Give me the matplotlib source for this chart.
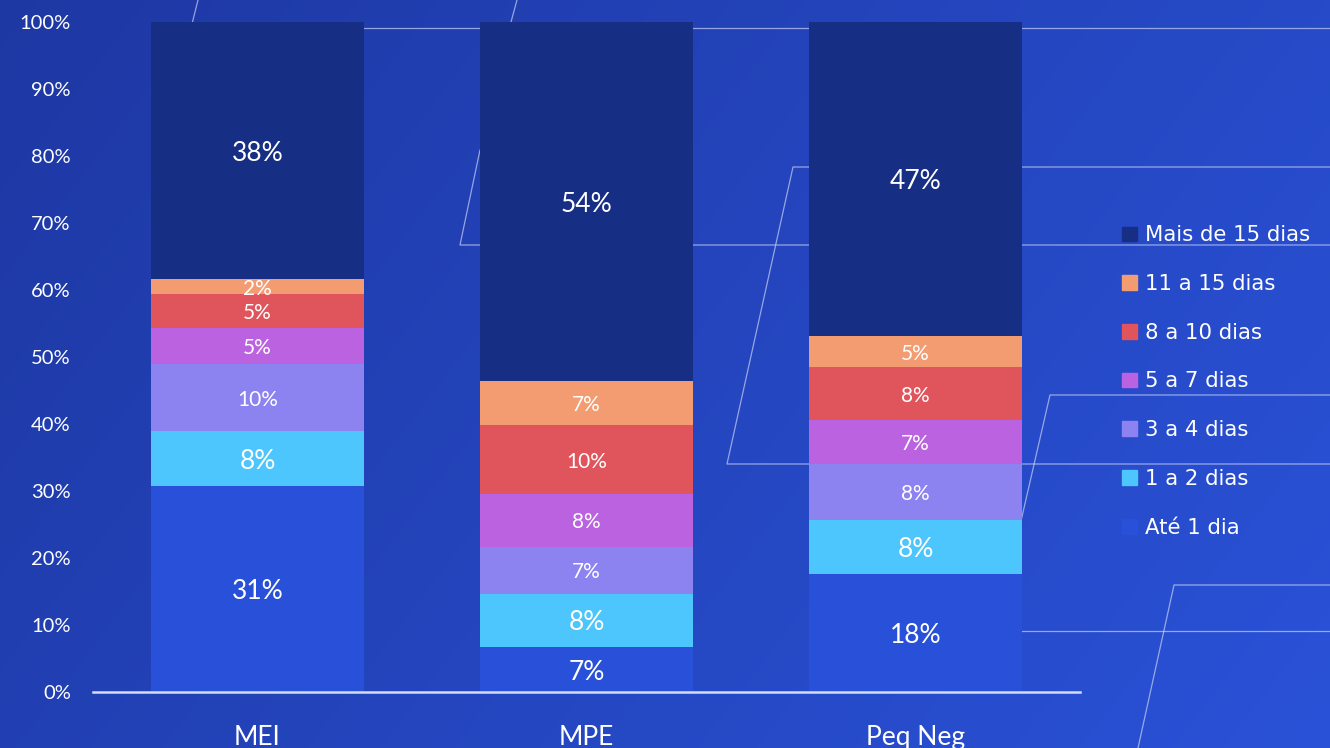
import numpy as np
import matplotlib.pyplot as plt
from matplotlib.patches import Patch

categorias = ['MEI', 'MPE', 'Peq Neg']
series = ['Até 1 dia', '1 a 2 dias', '3 a 4 dias', '5 a 7 dias',
          '8 a 10 dias', '11 a 15 dias', 'Mais de 15 dias']

ate_1 = [30.8, 6.7, 17.6]
d1_2 = [8.1, 8.0, 8.0]
d3_4 = [10.0, 7.0, 8.4]
d5_7 = [5.4, 7.8, 6.6]
d8_10 = [5.1, 10.3, 7.9]
d11_15 = [2.2, 6.6, 4.6]
mais_15 = [38.4, 53.6, 46.9]

valores = [ate_1, d1_2, d3_4, d5_7, d8_10, d11_15, mais_15]
cores = ['#2850D8', '#4CC6FD', '#8C83F0', '#BB62E0', '#E0545C', '#F39C72', '#172E85']
tam_rotulo = [19, 19, 15, 15, 15, 15, 19]

W, H = 1330, 748
fig = plt.figure(figsize=(W / 100, H / 100), dpi=100)

# fundo em degradê + linhas decorativas (coordenadas em pixels)
bg = fig.add_axes([0, 0, 1, 1], zorder=-1)
yy, xx = np.mgrid[0:H, 0:W]
t = (xx / W * 0.7 + yy / H * 0.3)
c0 = np.array([0x1E, 0x38, 0xA3]) / 255
c1 = np.array([0x2A, 0x52, 0xD8]) / 255
img = c0[None, None, :] * (1 - t[..., None]) + c1[None, None, :] * t[..., None]
bg.imshow(img, extent=[0, W, H, 0], aspect='auto')
linhas = [
    ([198, 192], [0, 24]),
    ([517, 511], [0, 22]),
    ([364, W], [28, 28]),
    ([480, 460, W], [150, 245, 245]),
    ([W, 793, 727, W], [167, 167, 464, 464]),
    ([1021, 1050, W], [521, 395, 395]),
    ([1021, W], [631, 631]),
    ([1138, 1174, W], [748, 585, 585]),
]
for lx, ly in linhas:
    bg.plot(lx, ly, color='#C8D0F4', lw=0.9, alpha=0.7)
bg.set_xlim(0, W)
bg.set_ylim(H, 0)
bg.axis('off')

ax = fig.add_axes([93 / W, 56 / H, 987 / W, 670 / H], zorder=1)
ax.set_facecolor('none')
x = np.arange(len(categorias))
base = np.zeros(len(categorias))
for serie, vals, cor, fs in zip(series, valores, cores, tam_rotulo):
    vals = np.array(vals)
    ax.bar(x, vals, 0.645, bottom=base, color=cor, label=serie, zorder=2)
    for xi, b, v in zip(x, base, vals):
        ax.text(xi, b + v / 2, '%d%%' % round(v), ha='center', va='center_baseline',
                color='white', fontsize=fs, family='Lato', zorder=3)
    base += vals

ax.set_xlim(-0.5, 2.5)
ax.set_ylim(0, 100)
ax.set_yticks(np.arange(0, 101, 10))
ax.set_yticklabels(['%d%%' % v for v in range(0, 101, 10)])
ax.set_xticks(x)
ax.set_xticklabels(categorias)
for lab in ax.get_yticklabels():
    lab.set_family('Lato')
    lab.set_fontsize(14.5)
    lab.set_color('white')
for lab in ax.get_xticklabels():
    lab.set_family('Lato')
    lab.set_fontsize(19)
    lab.set_color('white')
ax.tick_params(axis='y', length=0, pad=16)
ax.tick_params(axis='x', length=0, pad=24)
for s in ['top', 'right', 'left']:
    ax.spines[s].set_visible(False)
ax.spines['bottom'].set_color('#D5DCF6')
ax.spines['bottom'].set_linewidth(1.8)

handles = [Patch(color=c) for c in cores][::-1]
fig.legend(handles, series[::-1], loc='upper left',
           bbox_to_anchor=(1116 / W, 1 - 219 / H), frameon=False,
           labelcolor='white', prop={'family': 'DejaVu Sans', 'size': 15.3},
           handlelength=0.7, handleheight=0.7, handletextpad=0.35,
           labelspacing=1.35, borderaxespad=0, borderpad=0.3)

fig.savefig('out.png', dpi=100)
